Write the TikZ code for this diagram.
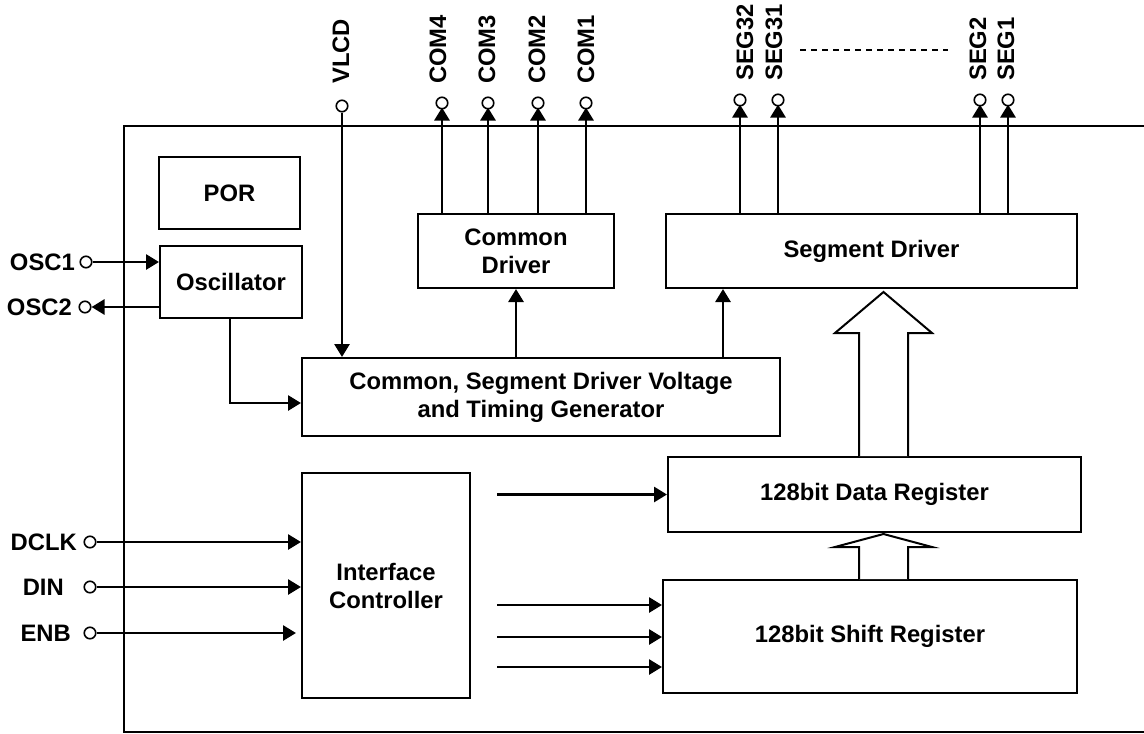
\documentclass[tikz,border=0pt]{standalone}
\usepackage{fontspec}
\setmainfont{Liberation Sans}
\usetikzlibrary{arrows.meta,calc}
\begin{document}
\begin{tikzpicture}[x=1pt,y=-1pt,
  every node/.style={font=\fontsize{23.8}{28}\selectfont\bfseries},
  box/.style={draw, line width=2pt, inner sep=0pt, align=center},
  arr/.style={line width=2.8pt, -{Triangle[length=13pt,width=15pt]}},
  pin/.style={circle, draw, line width=1.6pt, minimum size=11.5pt, inner sep=0pt, fill=white},
  plab/.style={inner sep=0pt, anchor=east},
  vlab/.style={inner sep=0pt, anchor=west, rotate=90},
  hollow/.style={draw, line width=2pt, fill=white, line join=miter},
  frame/.style={line width=2pt}]
\useasboundingbox (0,0) rectangle (1144,734);
% outer frame
\draw[frame] (1144,126) -- (124,126) -- (124,732) -- (1144,732);
% blocks
\node[box, minimum width=141, minimum height=72] (por) at (229.5,193) {POR};
\node[box, minimum width=142, minimum height=72] (osc) at (231,282) {Oscillator};
\node[box, minimum width=196, minimum height=74] (cd) at (516,251) {Common\\Driver};
\node[box, minimum width=411, minimum height=74] (sd) at (871.5,251) {Segment Driver};
\node[box, minimum width=478, minimum height=78] (tg) at (541,397) {Common, Segment Driver Voltage\\and Timing Generator};
\node[box, minimum width=168, minimum height=225] (ic) at (386,585.5) {Interface\\Controller};
\node[box, minimum width=413, minimum height=75] (dr) at (874.5,494.5) {128bit Data Register};
\node[box, minimum width=414, minimum height=113] (sr) at (870,636.5) {128bit Shift Register};
% top pins
\node[pin] (vlcd) at (342,106) {};
\node[pin] (com4) at (442,103) {};
\node[pin] (com3) at (488,103) {};
\node[pin] (com2) at (538,103) {};
\node[pin] (com1) at (586,103) {};
\node[pin] (seg32) at (740,100) {};
\node[pin] (seg31) at (778,100) {};
\node[pin] (seg2) at (980,100) {};
\node[pin] (seg1) at (1008,100) {};
\node[vlab] (lvlcd) at (341,84) {VLCD};
\node[vlab] (lcom4) at (438,84) {COM4};
\node[vlab] (lcom3) at (487,84) {COM3};
\node[vlab] (lcom2) at (537,84) {COM2};
\node[vlab] (lcom1) at (586,84) {COM1};
\node[vlab] (lseg32) at (745,81) {SEG32};
\node[vlab] (lseg31) at (774,81) {SEG31};
\node[vlab] (lseg2) at (978,81) {SEG2};
\node[vlab] (lseg1) at (1006,81) {SEG1};
\coordinate (dl) at (800,50);
\coordinate (dr2) at (948,50);
\draw[line width=1.5pt, dash pattern=on 6pt off 5pt] (dl) -- (dr2);
% left pins
\node[pin] (osc1) at (86,262) {};
\node[pin] (osc2) at (85,307) {};
\node[pin] (dclk) at (90,542) {};
\node[pin] (din) at (90,587) {};
\node[pin] (enb) at (90,633) {};
\node[plab] (losc1) at (75,262) {OSC1};
\node[plab] (losc2) at (72,307) {OSC2};
\node[plab] (ldclk) at (77,542) {DCLK};
\node[plab] (ldin) at (64,587) {DIN};
\node[plab] (lenb) at (71,633) {ENB};
% connectors
\draw[arr] (vlcd) -- (vlcd |- tg.north);
\foreach \p in {com4,com3,com2,com1}
  \draw[arr, shorten >=-2pt] (cd.north -| \p) -- (\p);
\foreach \p in {seg32,seg31,seg2,seg1}
  \draw[arr, shorten >=-2pt] (sd.north -| \p) -- (\p);
\draw[arr] (osc1) -- (osc1 -| osc.west);
\draw[arr] (osc2 -| osc.west) -- (osc2);
\coordinate (oc) at (230,403);
\draw[arr] (oc |- osc.south) -- (oc) -- (oc -| tg.west);
\draw[arr] (tg.north -| cd.south) -- (cd.south);
\coordinate (tsx) at (723,0);
\draw[arr] (tg.north -| tsx) -- (sd.south -| tsx);
\draw[arr] (dclk) -- (dclk -| ic.west);
\draw[arr] (din) -- (din -| ic.west);
\draw[arr, shorten >=5pt] (enb) -- (enb -| ic.west);
\coordinate (ica) at (497,494.5);
\coordinate (icb) at (497,605);
\coordinate (icc) at (497,637);
\coordinate (icd) at (497,667);
\draw[arr] (ica) -- (ica -| dr.west);
\draw[arr] (icb) -- (icb -| sr.west);
\draw[arr] (icc) -- (icc -| sr.west);
\draw[arr] (icd) -- (icd -| sr.west);
% hollow arrows
\coordinate (ha) at (883.5,0);
\draw[hollow] ($(ha |- dr.north)+(-24.5,0)$) -- ($(ha |- sd.south)+(-24.5,44)$) -- ($(ha |- sd.south)+(-48.5,44)$) -- ($(ha |- sd.south)+(0,3)$) -- ($(ha |- sd.south)+(48.5,44)$) -- ($(ha |- sd.south)+(24.5,44)$) -- ($(ha |- dr.north)+(24.5,0)$);
\draw[hollow] ($(ha |- sr.north)+(-24.5,0)$) -- ($(ha |- dr.south)+(-24.5,14)$) -- ($(ha |- dr.south)+(-48.5,14)$) -- ($(ha |- dr.south)+(0,1)$) -- ($(ha |- dr.south)+(48.5,14)$) -- ($(ha |- dr.south)+(24.5,14)$) -- ($(ha |- sr.north)+(24.5,0)$);
\end{tikzpicture}
\end{document}
